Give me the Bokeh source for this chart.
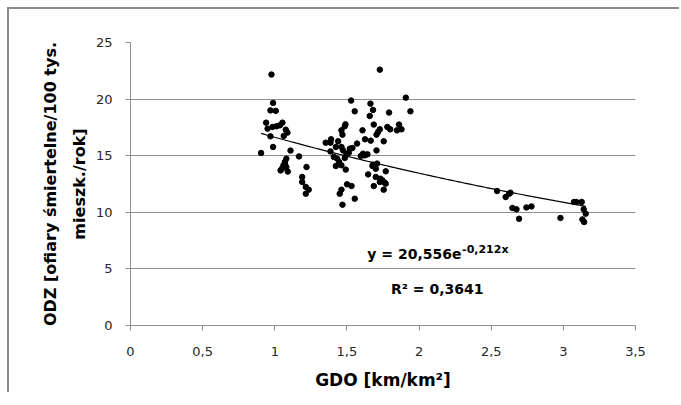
import numpy as np
from bokeh.plotting import figure
from bokeh.models import Range1d, Label, FixedTicker
from bokeh.embed import file_html
from bokeh.resources import INLINE

# ---- data ----
gdo = [0.977, 0.988, 0.970, 1.007, 0.940, 0.950, 0.984, 1.012, 1.035, 1.053,
       1.076, 1.088, 1.062, 0.970, 0.988, 1.109, 0.905, 1.168,
       1.080, 1.070, 1.060, 1.080, 1.050, 1.090, 1.040, 1.070,
       1.220, 1.190, 1.190, 1.215, 1.235, 1.215,
       1.728, 1.908, 1.940, 1.529, 1.663, 1.681, 1.554, 1.792, 1.658,
       1.490, 1.485, 1.686, 1.861, 1.780, 1.800, 1.847, 1.878,
       1.728, 1.716, 1.705, 1.462, 1.469, 1.608, 1.626, 1.665, 1.755,
       1.390, 1.353, 1.386, 1.439, 1.423, 1.386, 1.462, 1.473,
       1.520, 1.538, 1.513, 1.570, 1.705, 1.612, 1.596, 1.642, 1.624,
       1.409, 1.432, 1.485, 1.497, 1.446, 1.423, 1.462, 1.492,
       1.681, 1.709, 1.700, 1.677, 1.769, 1.647, 1.700,
       1.732, 1.746, 1.762, 1.728, 1.769, 1.686, 1.755,
       1.501, 1.532, 1.462, 1.450, 1.554, 1.469,
       2.541, 2.600, 2.624, 2.633, 2.647, 2.675, 2.693, 2.744, 2.779,
       2.980, 3.074, 3.090, 3.127, 3.141, 3.155, 3.132, 3.144]
odz = [22.17, 19.66, 19.00, 18.96, 17.92, 17.39, 17.54, 17.60, 17.68, 17.92,
       17.30, 17.04, 16.75, 16.71, 15.77, 15.45, 15.24, 14.94,
       14.74, 14.45, 14.15, 14.00, 13.86, 13.60, 13.70, 14.30,
       14.00, 13.12, 12.68, 12.24, 12.00, 11.64,
       22.60, 20.13, 18.92, 19.87, 19.60, 19.04, 18.92, 18.81, 18.51,
       17.77, 17.60, 17.75, 17.75, 17.54, 17.33, 17.24, 17.33,
       17.33, 17.10, 16.86, 17.24, 16.86, 17.24, 16.45, 16.33, 16.27,
       16.45, 16.15, 16.15, 16.27, 15.77, 15.38, 15.77, 15.47,
       15.62, 15.68, 15.27, 16.07, 15.47, 15.18, 14.98, 15.12, 15.03,
       14.89, 14.74, 14.80, 15.09, 14.45, 14.09, 14.15, 13.77,
       14.21, 14.30, 13.85, 14.09, 13.62, 13.35, 13.12,
       12.97, 12.82, 12.62, 12.68, 12.53, 12.32, 12.00,
       12.47, 12.32, 12.00, 11.64, 11.20, 10.67,
       11.88, 11.35, 11.64, 11.73, 10.38, 10.26, 9.43, 10.43, 10.52,
       9.50, 10.91, 10.91, 10.91, 10.26, 9.88, 9.37, 9.14]

x_ticks = [0, 0.5, 1, 1.5, 2, 2.5, 3, 3.5]
x_tick_labels = ["0", "0,5", "1", "1,5", "2", "2,5", "3", "3,5"]
y_ticks = [0, 5, 10, 15, 20, 25]
y_tick_labels = ["0", "5", "10", "15", "20", "25"]

trend_a = 20.556
trend_b = -0.212
eq_text = "y = 20,556e"
eq_exp = "-0,212x"
r2_text = "R\u00b2 = 0,3641"
x_title = "GDO [km/km\u00b2]"
y_title = "ODZ [ofiary \u015bmiertelne/100 tys.\nmieszk./rok]"

FONT = "DejaVu Sans"
GRID = "#8e8e8e"

p = figure(frame_width=505, frame_height=283,
           min_border_left=121, min_border_top=33,
           min_border_right=44, min_border_bottom=60,
           x_range=Range1d(0, 3.5), y_range=Range1d(0, 25),
           output_backend="svg", toolbar_location=None)
p.styles = {"margin-left": "7px", "margin-top": "7px",
            "border-top": "2px solid #8a8a8a", "border-left": "2px solid #8a8a8a"}
p.background_fill_color = "white"
p.border_fill_color = "white"
p.outline_line_color = None

# grid
p.xgrid.visible = False
p.ygrid.ticker = FixedTicker(ticks=y_ticks)
p.ygrid.grid_line_color = GRID
p.ygrid.grid_line_width = 1

# axes
for ax in (p.xaxis, p.yaxis):
    ax.axis_line_color = GRID
    ax.major_tick_line_color = GRID
    ax.major_tick_in = 0
    ax.major_tick_out = 5
    ax.minor_tick_line_color = None
    ax.major_label_text_font = FONT
    ax.major_label_text_font_size = "13px"
    ax.major_label_text_color = "#262626"
    ax.axis_label_text_font = FONT
    ax.axis_label_text_font_style = "bold"
    ax.axis_label_text_color = "black"

p.xaxis.major_label_standoff = 16
p.yaxis.major_label_standoff = 13

p.xaxis.ticker = FixedTicker(ticks=x_ticks)
p.xaxis.major_label_overrides = {float(t): l for t, l in zip(x_ticks, x_tick_labels)}
p.yaxis.ticker = FixedTicker(ticks=y_ticks)
p.yaxis.major_label_overrides = {float(t): l for t, l in zip(y_ticks, y_tick_labels)}

p.xaxis.axis_label = x_title
p.xaxis.axis_label_text_font_size = "17px"
p.xaxis.axis_label_standoff = 11

p.yaxis.axis_label = y_title
p.yaxis.axis_label_text_font_size = "16px"
p.yaxis.axis_label_text_line_height = 1.55
p.yaxis.axis_label_standoff = 4

# data points
p.scatter(gdo, odz, size=5.5, color="black")

# exponential trend line from the printed equation
xs = np.linspace(min(gdo), max(gdo), 120)
ys = trend_a * np.exp(trend_b * xs)
p.line(xs, ys, line_color="black", line_width=1.2)

# equation text
p.add_layout(Label(x=2.294, y=6.34, text=eq_text, text_align="right",
                   text_baseline="alphabetic", text_font=FONT,
                   text_font_size="14px", text_font_style="bold",
                   text_color="black"))
p.add_layout(Label(x=2.298, y=6.74, text=eq_exp, text_align="left",
                   text_baseline="alphabetic", text_font=FONT,
                   text_font_size="11px", text_font_style="bold",
                   text_color="black"))
p.add_layout(Label(x=2.126, y=3.24, text=r2_text, text_align="center",
                   text_baseline="alphabetic", text_font=FONT,
                   text_font_size="14px", text_font_style="bold",
                   text_color="black"))

open("out.html", "w").write(file_html(p, INLINE))
